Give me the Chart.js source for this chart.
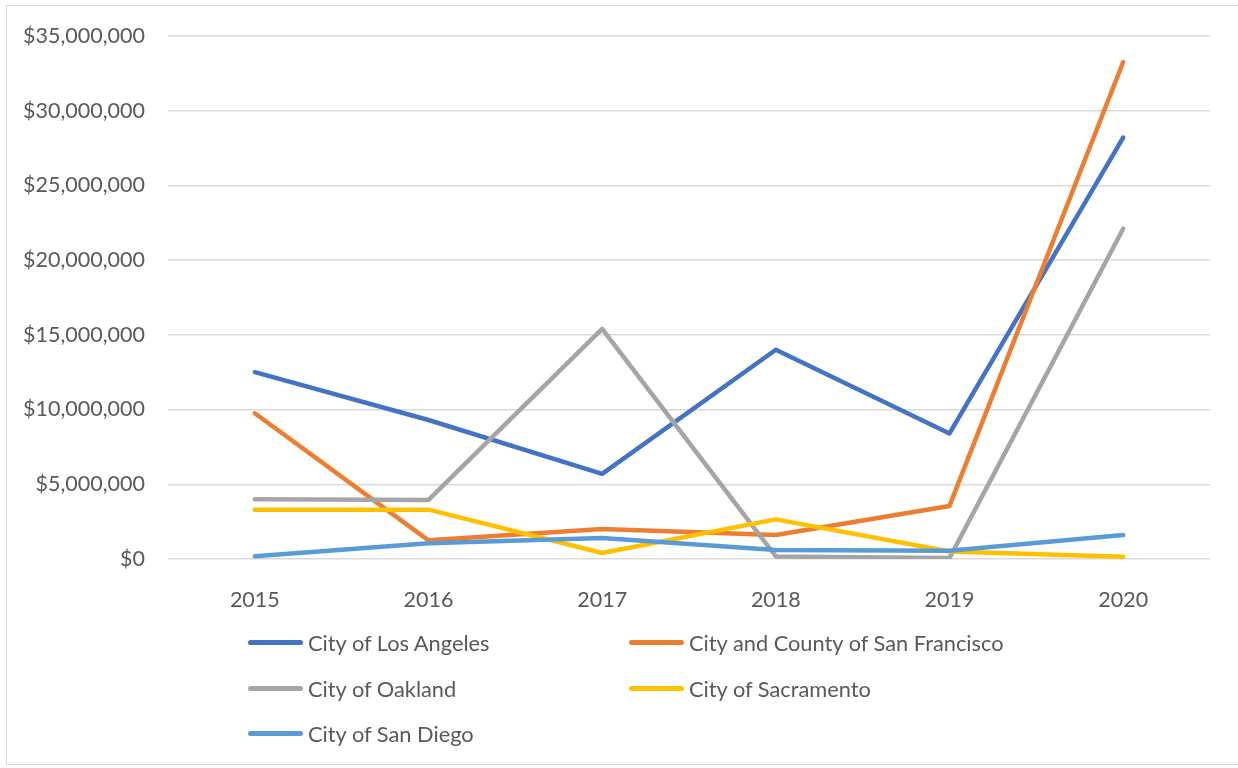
<!DOCTYPE html>
<html>
<head>
<meta charset="utf-8">
<script src="https://cdn.jsdelivr.net/npm/chart.js@4"></script>
<style>
    html, body { margin: 0; padding: 0; background: #fff; }
    #wrap { position: relative; width: 1238px; height: 768px; overflow: hidden; }
    #frame { position: absolute; left: 6px; top: 5px; width: 1240px; height: 760px; border: 1px solid #d9d9d9; box-sizing: border-box; }
    #chart { position: absolute; left: 0; top: 0; }
    .legend-item { position: absolute; display: flex; align-items: center; font-family: Lato, sans-serif; font-size: 21.8px; color: #595959; white-space: nowrap; }
    .legend-line { width: 55px; height: 5px; border-radius: 3px; margin-right: 5px; }
</style>
</head>
<body>
<div id="wrap">
    <div id="frame"></div>
    <canvas id="chart" width="1238" height="768"></canvas>
    <div id="chart-legend"></div>
</div>
<script>
const years = ['2015', '2016', '2017', '2018', '2019', '2020'];
const seriesNames = ['City of Los Angeles', 'City and County of San Francisco', 'City of Oakland', 'City of Sacramento', 'City of San Diego'];
const seriesColors = ['#4472C4', '#ED7D31', '#A5A5A5', '#FFC000', '#5B9BD5'];

// giá trị (đô la)
const losAngeles   = [12500000, 9300000, 5700000, 14000000, 8400000, 28200000];
const sanFrancisco = [9750000, 1250000, 2000000, 1600000, 3550000, 33250000];
const oakland      = [4000000, 3950000, 15400000, 170000, 60000, 22100000];
const sacramento   = [3300000, 3300000, 400000, 2650000, 500000, 150000];
const sanDiego     = [180000, 1050000, 1400000, 600000, 550000, 1600000];
const seriesValues = [losAngeles, sanFrancisco, oakland, sacramento, sanDiego];

const yTicks = [0, 5000000, 10000000, 15000000, 20000000, 25000000, 30000000, 35000000];

const tickFont = { family: 'Lato', size: 21.5 };

const ctx = document.getElementById('chart').getContext('2d');
new Chart(ctx, {
    type: 'line',
    data: {
        labels: years,
        datasets: seriesNames.map((name, i) => ({
            label: name,
            data: seriesValues[i],
            borderColor: seriesColors[i],
            backgroundColor: seriesColors[i],
            borderWidth: 4.5,
            borderCapStyle: 'round',
            borderJoinStyle: 'round',
            pointRadius: 0,
            tension: 0,
            order: seriesNames.length - i // series sau vẽ đè lên trên như Excel
        }))
    },
    options: {
        responsive: false,
        animation: false,
        layout: { padding: { left: 0, top: 34, right: 28, bottom: 0 } },
        plugins: {
            legend: { display: false },
            tooltip: { enabled: false }
        },
        scales: {
            x: {
                offset: true,
                grid: { display: false },
                border: { display: false },
                ticks: { color: '#595959', font: tickFont, padding: 20 },
                afterFit: scale => { scale.height = 209; }
            },
            y: {
                min: 0,
                max: 35000000,
                afterBuildTicks: scale => { scale.ticks = yTicks.map(v => ({ value: v })); },
                grid: { color: '#d9d9d9', lineWidth: 1.5, drawTicks: false },
                border: { display: false },
                ticks: {
                    color: '#595959',
                    font: tickFont,
                    padding: 23,
                    callback: v => '$' + v.toLocaleString('en-US')
                },
                afterFit: scale => { scale.width = 168; }
            }
        }
    }
});

// chú thích tự tạo, 2 cột như bản gốc
const legendPos = [[248, 643], [629, 643], [248, 689], [629, 689], [248, 734]];
document.getElementById('chart-legend').innerHTML = seriesNames.map((name, i) => `
    <div class="legend-item" style="left:${legendPos[i][0]}px; top:${legendPos[i][1] - 15}px; height:28px;">
        <div class="legend-line" style="background-color:${seriesColors[i]};"></div>
        <span>${name}</span>
    </div>
`).join('');
</script>
</body>
</html>
